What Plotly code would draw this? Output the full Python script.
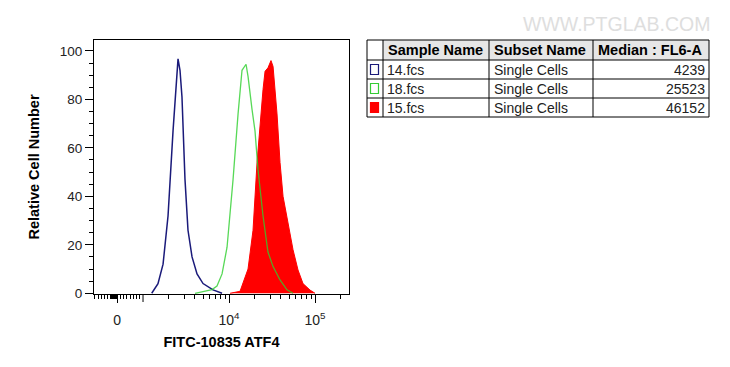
import numpy as np
import plotly.graph_objects as go

# ---------------- data (x = log10 display position of FITC intensity, y = % of max) ----------------
blue_x = [3.101, 3.174, 3.233, 3.291, 3.349, 3.384, 3.407, 3.430, 3.453, 3.488, 3.523, 3.570, 3.628, 3.698, 3.814, 3.919]
blue_y = [0, 4, 12, 32, 67, 88, 96.7, 92, 81, 47, 26, 15, 8, 4, 1.4, 0]

green_x = [3.605, 3.721, 3.802, 3.860, 3.919, 3.977, 4.047, 4.105, 4.151, 4.198, 4.221, 4.267, 4.302, 4.337, 4.395, 4.453, 4.512, 4.593, 4.674, 4.744]
green_y = [0, 1.0, 1.5, 3, 8, 19, 47, 74, 92, 94.5, 89.5, 76, 67, 51, 32, 17, 11, 5.5, 1.4, 0]

red_x = [4.012, 4.128, 4.221, 4.279, 4.326, 4.360, 4.395, 4.419, 4.453, 4.488, 4.512, 4.558, 4.593, 4.628, 4.686, 4.744, 4.802, 4.860, 4.942, 5.0]
red_y = [0, 0.8, 10, 26, 54, 70, 84, 91.6, 93, 96, 93.6, 74, 54, 40, 29, 18, 9.6, 4, 1.3, 0]

x_tick_vals = [2.698, 4, 5]
x_tick_text = ["0", "10<sup>4</sup>", "10<sup>5</sup>"]
x_unlabeled_major = [3]
y_tick_vals = [0, 20, 40, 60, 80, 100]

table_header = ["Sample Name", "Subset Name", "Median : FL6-A"]
sample_names = ["14.fcs", "18.fcs", "15.fcs"]
subset_names = ["Single Cells", "Single Cells", "Single Cells"]
medians = ["4239", "25523", "46152"]
sample_colors = ["#1a1a7a", "#33cc33", "#ff0000"]
sample_filled = [False, False, True]

# ---------------- figure ----------------
fig = go.Figure()
fig.add_trace(go.Scatter(x=red_x, y=red_y, mode="lines", fill="tozeroy",
                         fillcolor="#ff0000", line=dict(color="#ff0000", width=1),
                         showlegend=False, hoverinfo="skip"))
fig.add_trace(go.Scatter(x=blue_x, y=blue_y, mode="lines",
                         line=dict(color="#1a1a7a", width=1.5),
                         showlegend=False, hoverinfo="skip"))
fig.add_trace(go.Scatter(x=green_x, y=green_y, mode="lines",
                         line=dict(color="#2ed02e", width=1.3), opacity=0.8,
                         showlegend=False, hoverinfo="skip"))

# minor tick positions (axis styling)
lin_minor = list(np.linspace(2.44, 2.96, 15)) + [2.63, 2.645, 2.66, 2.675, 2.69]
log_minor = [d + np.log10(k) for d in (3, 4) for k in range(2, 10)] + [5 + np.log10(2)]

PL, PR, PT, PB = 94, 349, 40, 294
W, H = 730, 367
FONT = "Liberation Sans, Arial, sans-serif"

fig.update_layout(
    width=W, height=H,
    margin=dict(l=PL, r=W - PR, t=PT, b=H - PB),
    paper_bgcolor="white", plot_bgcolor="white",
    font=dict(family=FONT, size=13, color="#222"),
    xaxis=dict(range=[2.43, 5.395], showgrid=False, zeroline=False,
               showline=True, linecolor="black", linewidth=1, mirror=True,
               ticks="outside", ticklen=8, tickcolor="black", tickwidth=1,
               tickmode="array", tickvals=x_tick_vals, ticktext=x_tick_text,
               tickfont=dict(size=14, color="#222"), ticklabelstandoff=5,
               minor=dict(tickmode="array", tickvals=lin_minor + log_minor,
                          ticks="outside", ticklen=4, tickcolor="black", showgrid=False),
               title=dict(text="<b>FITC-10835 ATF4</b>", font=dict(size=14.5, color="black"),
                          standoff=10)),
    yaxis=dict(range=[-0.3, 104.5], showgrid=False, zeroline=False,
               showline=True, linecolor="black", linewidth=1, mirror=True,
               ticks="outside", ticklen=8, tickcolor="black", tickwidth=1,
               tickmode="array", tickvals=y_tick_vals,
               tickfont=dict(size=13.5, color="#222"),
               minor=dict(dtick=5, ticks="outside", ticklen=4, tickcolor="black", showgrid=False),
               title=dict(text="<b>Relative Cell Number</b>", font=dict(size=14.5, color="black"),
                          standoff=16)),
)


def xp(px):
    return (px - PL) / (PR - PL)


def yp(py):
    return (PB - py) / (PB - PT)


shapes = []
annotations = []

# unlabeled major tick (10^3)
for v in x_unlabeled_major:
    shapes.append(dict(type="line", xref="x", yref="paper", x0=v, x1=v, y0=0, y1=-8 / (PB - PT),
                       line=dict(color="black", width=1)))

# table geometry (px)
tx0, tx_icon, tx1, tx2, tx3 = 367, 383, 489, 593, 709
row_edges = [40, 60, 79, 98, 117]

shapes.append(dict(type="rect", xref="paper", yref="paper", x0=xp(tx_icon), x1=xp(tx3),
                   y0=yp(row_edges[1]), y1=yp(row_edges[0]),
                   fillcolor="#e6e6e6", line=dict(width=0), layer="below"))
for ry in row_edges:
    shapes.append(dict(type="line", xref="paper", yref="paper", x0=xp(tx0), x1=xp(tx3),
                       y0=yp(ry), y1=yp(ry), line=dict(color="black", width=1)))
for cx in (tx0, tx_icon, tx1, tx2, tx3):
    shapes.append(dict(type="line", xref="paper", yref="paper", x0=xp(cx), x1=xp(cx),
                       y0=yp(row_edges[0]), y1=yp(row_edges[-1]), line=dict(color="black", width=1)))

hx = [tx_icon + 3, tx1 + 3, tx2 + 3]
for t, x in zip(table_header, hx):
    annotations.append(dict(text="<b>" + t + "</b>", x=xp(x), y=yp((row_edges[0] + row_edges[1]) / 2),
                            xref="paper", yref="paper", xanchor="left", yanchor="middle",
                            showarrow=False, font=dict(size=14.5, color="black")))

for i in range(len(sample_names)):
    cy = (row_edges[i + 1] + row_edges[i + 2]) / 2
    annotations.append(dict(text=sample_names[i], x=xp(tx_icon + 2), y=yp(cy), xref="paper", yref="paper",
                            xanchor="left", yanchor="middle", showarrow=False,
                            font=dict(size=14, color="#222")))
    annotations.append(dict(text=subset_names[i], x=xp(tx1 + 3), y=yp(cy), xref="paper", yref="paper",
                            xanchor="left", yanchor="middle", showarrow=False,
                            font=dict(size=14, color="#222")))
    annotations.append(dict(text=medians[i], x=xp(tx3 - 2), y=yp(cy), xref="paper", yref="paper",
                            xanchor="right", yanchor="middle", showarrow=False,
                            font=dict(size=14, color="#222")))
    shapes.append(dict(type="rect", xref="paper", yref="paper",
                       x0=xp(370.5), x1=xp(378.5), y0=yp(cy + 5), y1=yp(cy - 5),
                       line=dict(color=sample_colors[i], width=1.2),
                       fillcolor=sample_colors[i] if sample_filled[i] else "white"))

annotations.append(dict(text="WWW.PTGLAB.COM", x=xp(712), y=yp(24), xref="paper", yref="paper",
                        xanchor="right", yanchor="middle", showarrow=False,
                        font=dict(size=19.5, color="#dedede", family=FONT)))

fig.update_layout(shapes=shapes, annotations=annotations)
fig.write_html("out.html", config={"displayModeBar": False},
               post_script="document.body.style.margin='0px';")
